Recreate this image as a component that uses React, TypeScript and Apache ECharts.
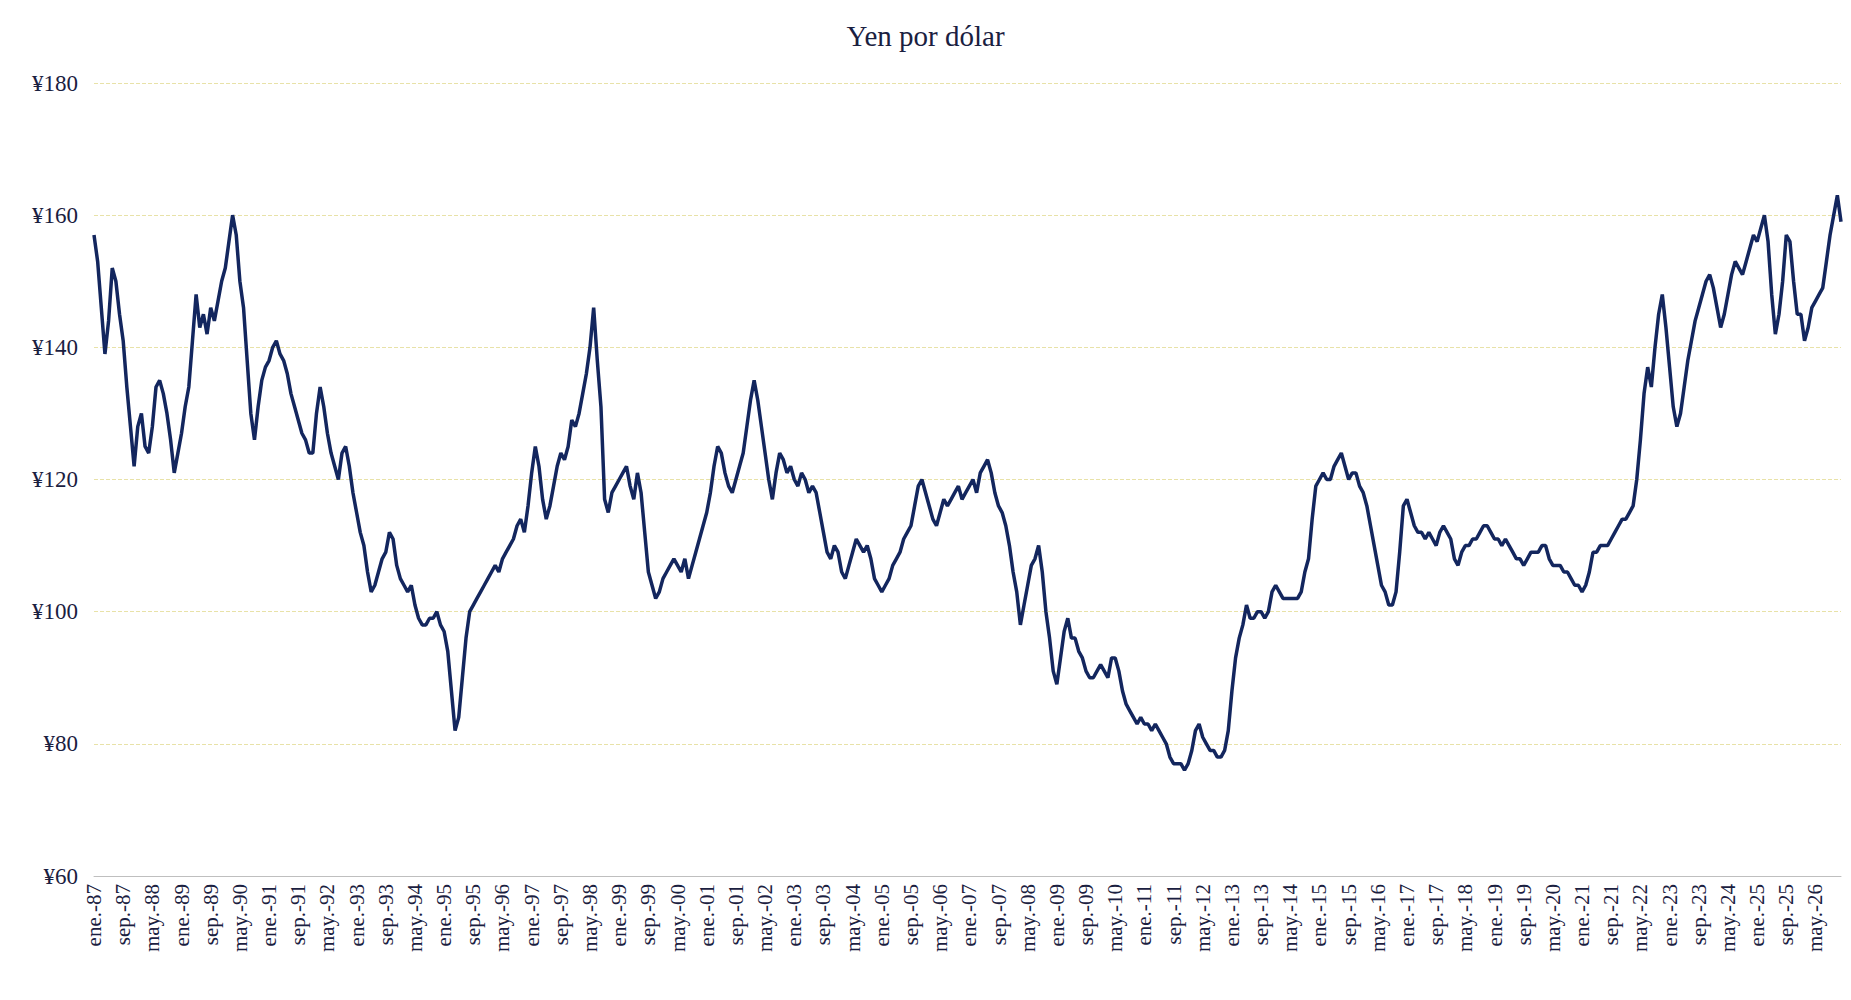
import { useEffect, useRef } from 'react';
import * as echarts from 'echarts';

const monthNames = ['ene', 'feb', 'mar', 'abr', 'may', 'jun', 'jul', 'ago', 'sep', 'oct', 'nov', 'dic'];

// monthly yen per dollar, ene.-87 .. dic.-26
const yen1987_1996 = [
  157, 153, 146, 139, 144, 152, 150, 145, 141, 134, 128, 122,
  128, 130, 125, 124, 128, 134, 135, 133, 130, 126, 121, 124,
  127, 131, 134, 141, 148, 143, 145, 142, 146, 144, 147, 150,
  152, 156, 160, 157, 150, 146, 138, 130, 126, 131, 135, 137,
  138, 140, 141, 139, 138, 136, 133, 131, 129, 127, 126, 124,
  124, 130, 134, 131, 127, 124, 122, 120, 124, 125, 122, 118,
  115, 112, 110, 106, 103, 104, 106, 108, 109, 112, 111, 107,
  105, 104, 103, 104, 101, 99, 98, 98, 99, 99, 100, 98,
  97, 94, 88, 82, 84, 90, 96, 100, 101, 102, 103, 104,
  105, 106, 107, 106, 108, 109, 110, 111, 113, 114, 112, 116,
];
const yen1997_2006 = [
  121, 125, 122, 117, 114, 116, 119, 122, 124, 123, 125, 129,
  128, 130, 133, 136, 140, 146, 138, 131, 117, 115, 118, 119,
  120, 121, 122, 119, 117, 121, 118, 112, 106, 104, 102, 103,
  105, 106, 107, 108, 107, 106, 108, 105, 107, 109, 111, 113,
  115, 118, 122, 125, 124, 121, 119, 118, 120, 122, 124, 128,
  132, 135, 132, 128, 124, 120, 117, 121, 124, 123, 121, 122,
  120, 119, 121, 120, 118, 119, 118, 115, 112, 109, 108, 110,
  109, 106, 105, 107, 109, 111, 110, 109, 110, 108, 105, 104,
  103, 104, 105, 107, 108, 109, 111, 112, 113, 116, 119, 120,
  118, 116, 114, 113, 115, 117, 116, 117, 118, 119, 117, 118,
];
const yen2007_2016 = [
  119, 120, 118, 121, 122, 123, 121, 118, 116, 115, 113, 110,
  106, 103, 98, 101, 104, 107, 108, 110, 106, 100, 96, 91,
  89, 93, 97, 99, 96, 96, 94, 93, 91, 90, 90, 91,
  92, 91, 90, 93, 93, 91, 88, 86, 85, 84, 83, 84,
  83, 83, 82, 83, 82, 81, 80, 78, 77, 77, 77, 76,
  77, 79, 82, 83, 81, 80, 79, 79, 78, 78, 79, 82,
  88, 93, 96, 98, 101, 99, 99, 100, 100, 99, 100, 103,
  104, 103, 102, 102, 102, 102, 102, 103, 106, 108, 114, 119,
  120, 121, 120, 120, 122, 123, 124, 122, 120, 121, 121, 119,
  118, 116, 113, 110, 107, 104, 103, 101, 101, 103, 109, 116,
];
const yen2017_2026 = [
  117, 115, 113, 112, 112, 111, 112, 111, 110, 112, 113, 112,
  111, 108, 107, 109, 110, 110, 111, 111, 112, 113, 113, 112,
  111, 111, 110, 111, 110, 109, 108, 108, 107, 108, 109, 109,
  109, 110, 110, 108, 107, 107, 107, 106, 106, 105, 104, 104,
  103, 104, 106, 109, 109, 110, 110, 110, 111, 112, 113, 114,
  114, 115, 116, 120, 126, 133, 137, 134, 140, 145, 148, 143,
  137, 131, 128, 130, 134, 138, 141, 144, 146, 148, 150, 151,
  149, 146, 143, 145, 148, 151, 153, 152, 151, 153, 155, 157,
  156, 158, 160, 156, 148, 142, 145, 150, 157, 156, 150, 145,
  145, 141, 143, 146, 147, 148, 149, 153, 157, 160, 163, 159,
];

const yenValues = [...yen1987_1996, ...yen1997_2006, ...yen2007_2016, ...yen2017_2026];
const months = yenValues.map((_, i) => {
  const year = (87 + Math.floor(i / 12)) % 100;
  return `${monthNames[i % 12]}.-${String(year).padStart(2, '0')}`;
});

export default function App() {
  const chartRef = useRef<HTMLDivElement>(null);

  useEffect(() => {
    document.body.style.margin = '0';
    if (!chartRef.current) return;
    const chart = echarts.init(chartRef.current, undefined, { renderer: 'svg' });
    const font = '"Liberation Serif", "DejaVu Serif", serif';
    chart.setOption({
      animation: false,
      backgroundColor: '#ffffff',
      title: {
        text: 'Yen por dólar',
        left: 'center',
        top: 16,
        textStyle: { fontFamily: font, fontSize: 29, fontWeight: 'normal', color: '#1a2040' },
      },
      grid: { left: 94, right: 10, top: 83, bottom: 124 },
      xAxis: {
        type: 'category',
        data: months,
        boundaryGap: false,
        axisLine: { lineStyle: { color: '#bfbfbf' } },
        axisTick: { show: false },
        axisLabel: {
          interval: 7,
          rotate: 90,
          fontFamily: font,
          fontSize: 21,
          color: '#1a2040',
          margin: 8,
        },
      },
      yAxis: {
        type: 'value',
        min: 60,
        max: 180,
        interval: 20,
        axisLine: { show: false },
        axisTick: { show: false },
        axisLabel: {
          formatter: '¥{value}',
          fontFamily: font,
          fontSize: 23,
          color: '#1a2040',
          margin: 16,
        },
        splitLine: { lineStyle: { color: '#e8e2a8', type: 'dashed', width: 1 } },
      },
      series: [
        {
          type: 'line',
          data: yenValues,
          showSymbol: false,
          lineStyle: { color: '#13265e', width: 3.5 },
          itemStyle: { color: '#13265e' },
        },
      ],
    });
    return () => chart.dispose();
  }, []);

  return <div ref={chartRef} style={{ width: 1851, height: 1000 }} />;
}
